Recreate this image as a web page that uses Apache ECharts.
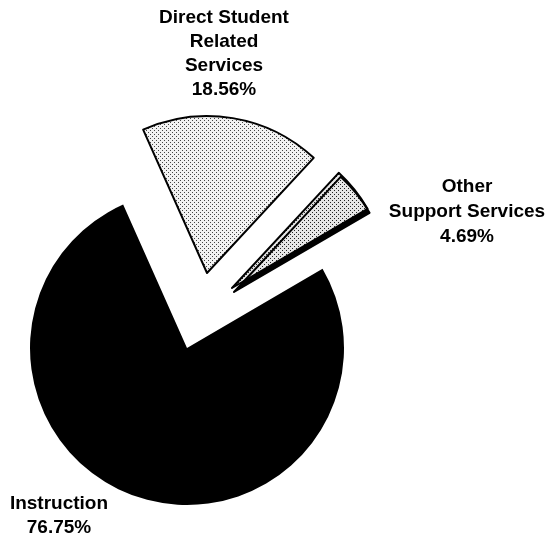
<!DOCTYPE html>
<html><head><meta charset="utf-8">
<script src="https://cdn.jsdelivr.net/npm/echarts@6/dist/echarts.min.js"></script>
<style>html,body{margin:0;padding:0;background:#fff}#c{width:548px;height:538px}</style>
</head><body><div id="c"></div>
<script>
const categories = ['Direct Student\nRelated\nServices', 'Other\nSupport Services', 'Instruction'];
const values = [18.56, 4.69, 76.75];

function dotPattern(dot, bg) {
  const c = document.createElement('canvas');
  c.width = 4; c.height = 4;
  const x = c.getContext('2d');
  x.fillStyle = bg; x.fillRect(0, 0, 4, 4);
  x.fillStyle = dot; x.fillRect(0, 0, 1, 1); x.fillRect(2, 2, 1, 1);
  return { image: c, repeat: 'repeat' };
}

const styles = [
  { color: dotPattern('#444', '#f2f2f2'), borderColor: '#000', borderWidth: 2 },
  { color: dotPattern('#222', '#e6e6e6'), borderColor: '#000', borderWidth: 2,
    shadowColor: '#000', shadowBlur: 0, shadowOffsetX: 2, shadowOffsetY: 4 },
  { color: '#000', borderColor: '#000', borderWidth: 0 }
];
const centers = [[207, 273], [232, 288], [187, 348]];
const labelPos = [
  { x: 224, y: 54, lh: 24 },
  { x: 467, y: 212, lh: 25 },
  { x: 59, y: 516, lh: 24 }
];

const series = categories.map((_, k) => ({
  type: 'pie',
  center: centers[k],
  radius: 157,
  startAngle: 114,
  clockwise: true,
  silent: true,
  animation: false,
  avoidLabelOverlap: false,
  labelLine: { show: false },
  labelLayout: () => ({ x: labelPos[k].x, y: labelPos[k].y, align: 'center', verticalAlign: 'middle' }),
  z: k === 1 ? 3 : 2,
  data: categories.map((name, i) => ({
    name: name,
    value: values[i],
    itemStyle: i === k ? styles[i] : { color: 'rgba(0,0,0,0)', borderWidth: 0 },
    label: i === k ? {
      show: true,
      position: 'outside',
      formatter: p => p.name + '\n' + p.value.toFixed(2) + '%',
      fontFamily: 'Liberation Sans, Arial, sans-serif',
      fontWeight: 'bold',
      fontSize: 19,
      lineHeight: labelPos[k].lh,
      color: '#000',
      align: 'center'
    } : { show: false }
  }))
}));

const chart = echarts.init(document.getElementById('c'), null, { renderer: 'canvas' });
chart.setOption({ backgroundColor: '#fff', series: series });
</script></body></html>
